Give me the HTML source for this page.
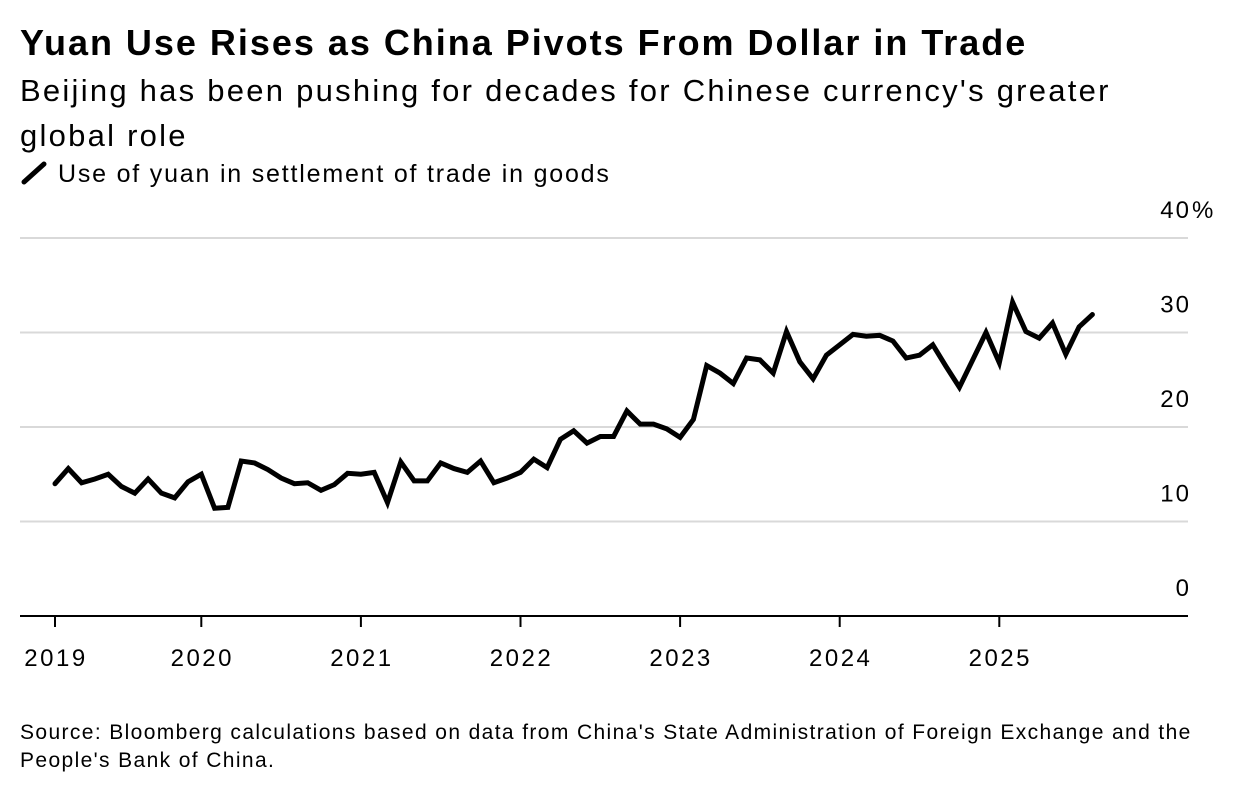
<!DOCTYPE html>
<html><head><meta charset="utf-8"><style>
body{margin:0;width:1236px;height:796px;background:#fff;font-family:"Liberation Sans",sans-serif;color:#000;overflow:hidden;position:relative}
.t{position:absolute;left:20px;white-space:nowrap}
</style></head><body>
<div class="t" style="top:22px;font-size:36px;font-weight:bold;letter-spacing:1.98px">Yuan Use Rises as China Pivots From Dollar in Trade</div>
<div class="t" style="top:68px;font-size:31px;line-height:45px;letter-spacing:2.25px;white-space:normal;width:1130px">Beijing has been pushing for decades for Chinese currency's greater global role</div>
<div class="t" style="top:160px;font-size:25px;letter-spacing:1.8px"><svg width="30" height="24" style="vertical-align:-3px;margin-right:8px"><line x1="4" y1="21" x2="24" y2="3" stroke="#000" stroke-width="5" stroke-linecap="round"/></svg>Use of yuan in settlement of trade in goods</div>
<svg id="chart" width="1236" height="796" style="position:absolute;left:0;top:0"></svg>
<div class="t" style="top:719px;font-size:21px;line-height:28px;letter-spacing:1.38px">Source: Bloomberg calculations based on data from China's State Administration of Foreign Exchange and the<br>People's Bank of China.</div>
<script>
const values=[14.0,15.6,14.1,14.5,15.0,13.7,13.0,14.5,13.0,12.5,14.2,15.0,11.4,11.5,16.4,16.2,15.5,14.6,14.0,14.1,13.3,13.9,15.1,15.0,15.2,12.0,16.3,14.3,14.3,16.2,15.6,15.2,16.4,14.1,14.6,15.2,16.6,15.7,18.7,19.6,18.3,19.0,19.0,21.7,20.3,20.3,19.8,18.9,20.8,26.5,25.7,24.6,27.3,27.1,25.7,30.1,26.9,25.1,27.6,28.7,29.8,29.6,29.7,29.1,27.3,27.6,28.7,26.4,24.2,27.1,30.0,26.8,33.2,30.1,29.4,31.0,27.7,30.6,31.9];
const yTicks=[0,10,20,30,40];
const yTickLabels=["0","10","20","30","40"];
const xTickMonths=[0,11,23,35,47,59,71];
const xTickLabels=["2019","2020","2021","2022","2023","2024","2025"];
const NS="http://www.w3.org/2000/svg";
const svg=document.getElementById('chart');
const x=i=>55+13.3*i;
const y=v=>616-9.45*v;
function mk(t,a){const e=document.createElementNS(NS,t);for(const k in a)e.setAttribute(k,a[k]);svg.appendChild(e);return e;}
yTicks.forEach((v,i)=>{
  if(v>0){const g=mk('line',{x1:20,x2:1188,y1:y(v),y2:y(v),stroke:'#d9d9d9','stroke-width':2});
  
  }
  const t=mk('text',{x:1191,y:y(v)-20,'text-anchor':'end','font-size':24,'letter-spacing':2,'font-family':'Liberation Sans, sans-serif'});
  t.textContent=yTickLabels[i];
  
  
  if(i===yTicks.length-1){
    const p=mk('text',{x:1192,y:y(v)-20,'font-size':24,'font-family':'Liberation Sans, sans-serif'});
    p.textContent='%';
    
    
  }
});
const ax=mk('line',{x1:20,x2:1188,y1:616,y2:616,stroke:'#000','stroke-width':2});


xTickMonths.forEach((m,i)=>{
  const tk=mk('line',{x1:x(m),x2:x(m),y1:616,y2:627,stroke:'#000','stroke-width':2});
  
  
  const t=mk('text',{x:x(m)+1,y:666,'text-anchor':'middle','font-size':24,'letter-spacing':2.5,'font-family':'Liberation Sans, sans-serif'});
  t.textContent=xTickLabels[i];
  
  
});
const line=mk('polyline',{points:values.map((v,i)=>x(i)+','+y(v)).join(' '),fill:'none',stroke:'#000','stroke-width':5,'stroke-linejoin':'miter','stroke-linecap':'round'});


</script>
</body></html>
